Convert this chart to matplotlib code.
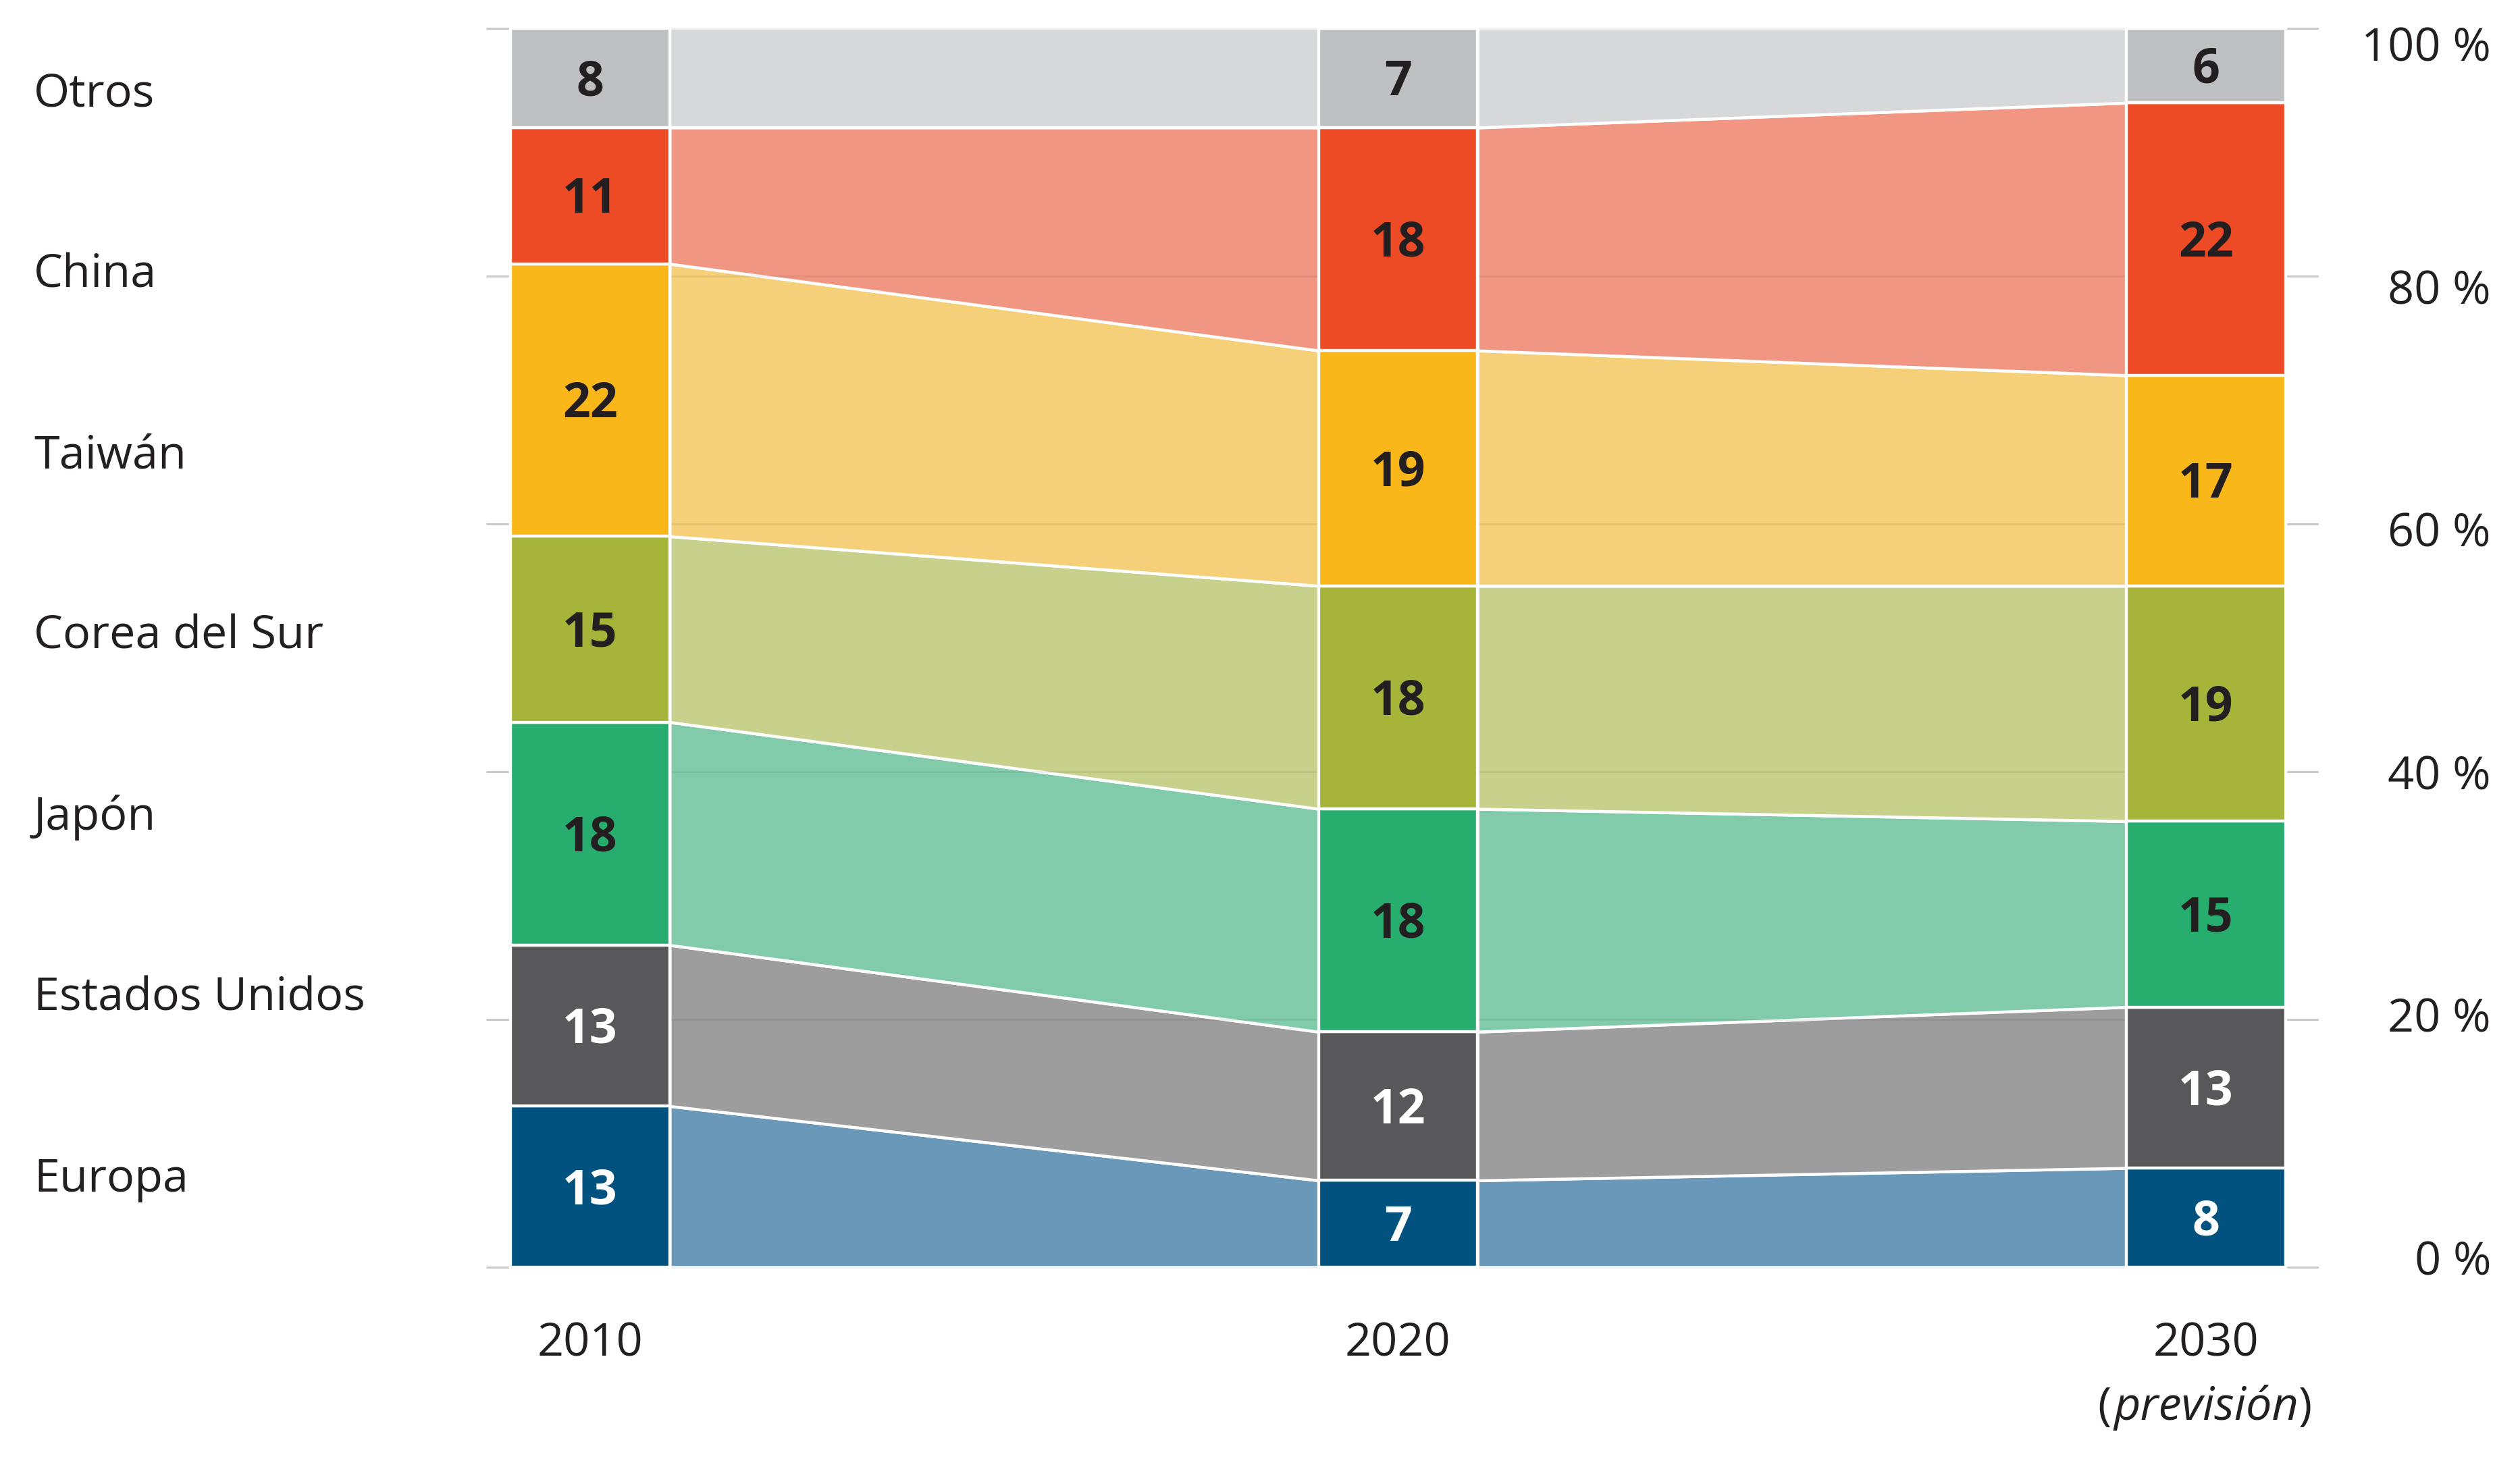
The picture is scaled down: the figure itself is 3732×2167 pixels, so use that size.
import matplotlib
matplotlib.use("Agg")
import matplotlib.pyplot as plt
import matplotlib.transforms as mtransforms
import numpy as np

plt.rcParams['font.family'] = ['Open Sans', 'DejaVu Sans']

# ---------------- data ----------------
years = ["2010", "2020", "2030"]
year_note = ["", "", "(previsión)"]
# bottom -> top stacking order
categories = ["Europa", "Estados Unidos", "Japón", "Corea del Sur", "Taiwán", "China", "Otros"]
europa = [13, 7, 8]
estados_unidos = [13, 12, 13]
japon = [18, 18, 15]
corea = [15, 18, 19]
taiwan = [22, 19, 17]
china = [11, 18, 22]
otros = [8, 7, 6]
series = [europa, estados_unidos, japon, corea, taiwan, china, otros]
ytick_values = [0, 20, 40, 60, 80, 100]

# ---------------- style ----------------
bar_colors = ["#02527f", "#58585a", "#27ae6f", "#a6b43a", "#fab71a", "#ec4b26", "#bfc0c2"]
band_colors = ["#6a98b8", "#9d9d9d", "#82cbaa", "#c8d18b", "#f5d079", "#f09682", "#d7d8da"]
label_colors = ["white", "white", "#231f20", "#231f20", "#231f20", "#231f20", "#231f20"]
txt = "#231f20"
FS = 20.5
FS_BOLD = 21.5
W = 0.197
EDGE_LW = 1.3

W_PX, H_PX, DPI = 3732, 2167, 240
fig = plt.figure(figsize=(W_PX / DPI, H_PX / DPI), dpi=DPI)
ax_l, ax_r = 720 / W_PX, 3434 / W_PX
ax_b, ax_t = (H_PX - 1886) / H_PX, (H_PX - 33) / H_PX
ax = fig.add_axes([ax_l, ax_b, ax_r - ax_l, ax_t - ax_b])
XL = (-0.1287, 2.1396)
ax.set_xlim(*XL)
ax.set_ylim(-0.5, 100.5)
ax.axis("off")

x = np.arange(len(years))
vals = np.array(series, dtype=float)
bottoms = np.vstack([np.zeros(len(years)), np.cumsum(vals, axis=0)[:-1]])
heights = vals.copy()
# last category ("Otros") fills the column up to 100 %
heights[-1] = 100 - bottoms[-1]
tops = bottoms + heights

# grid lines (appear as ticks outside the bars)
for v in ytick_values:
    ax.hlines(v, XL[0], XL[1], color="#c9cacc", lw=0.9, zorder=0)

# connecting bands
for k in range(len(categories)):
    for i in range(len(years) - 1):
        xs = [x[i] + W / 2, x[i + 1] - W / 2]
        ax.fill_between(xs, [bottoms[k, i], bottoms[k, i + 1]], [tops[k, i], tops[k, i + 1]],
                        facecolor=band_colors[k], edgecolor="white", lw=EDGE_LW, zorder=1)

# faint grid visible through the bands
for v in ytick_values:
    ax.hlines(v, x[0] + W / 2, x[-1] - W / 2, color=(0, 0, 0, 0.06), lw=0.9, zorder=1.5)

# bars
for k in range(len(categories)):
    ax.bar(x, heights[k], W, bottom=bottoms[k], color=bar_colors[k],
           edgecolor="white", lw=EDGE_LW, zorder=2)
    for i in range(len(years)):
        yc = bottoms[k, i] + heights[k, i] / 2
        ax.annotate(f"{series[k][i]:g}", (x[i], yc), xytext=(0, -0.357 * FS_BOLD),
                    textcoords="offset points", ha="center", va="baseline",
                    fontsize=FS_BOLD, fontweight="bold", color=label_colors[k], zorder=3)

# year labels
for i, y in enumerate(years):
    ax.annotate(y, (x[i], -0.5), xytext=(0, -36.7), textcoords="offset points",
                ha="center", va="baseline", fontsize=FS, color=txt, annotation_clip=False)
    if year_note[i]:
        inner = year_note[i].strip("()")
        t = ax.annotate(inner, (x[i], -0.5), xytext=(0, -65.0), textcoords="offset points",
                        ha="center", va="baseline", fontsize=FS, style="italic", color=txt,
                        annotation_clip=False)
        ax.annotate("(", xy=(0, 0), xycoords=t, xytext=(-1, 0), textcoords="offset points",
                    ha="right", va="bottom", fontsize=FS, color=txt, annotation_clip=False)
        ax.annotate(")", xy=(1, 0), xycoords=t, xytext=(0, 0), textcoords="offset points",
                    ha="left", va="bottom", fontsize=FS, color=txt, annotation_clip=False)

# right-hand percentage labels
xr = (3689 - 720) / (3434 - 720)
trans_r = mtransforms.blended_transform_factory(ax.transAxes, ax.transData)
for v in ytick_values:
    ax.annotate(f"{v} %", (xr, 0.98 * v + 0.7), xycoords=trans_r, xytext=(0, -0.357 * FS),
                textcoords="offset points", ha="right", va="baseline", fontsize=FS,
                color=txt, annotation_clip=False)

# left-hand category labels (evenly spaced, top to bottom)
trans_l = mtransforms.blended_transform_factory(fig.transFigure, ax.transData)
xl = 50 / W_PX
top_label_y, step = 95.05, 14.6
for j, name in enumerate(categories[::-1]):
    ax.annotate(name, (xl, top_label_y - j * step), xycoords=trans_l, xytext=(0, -0.357 * FS),
                textcoords="offset points", ha="left", va="baseline", fontsize=FS,
                color=txt, annotation_clip=False)

fig.savefig("out.png", dpi=DPI, facecolor="white")
